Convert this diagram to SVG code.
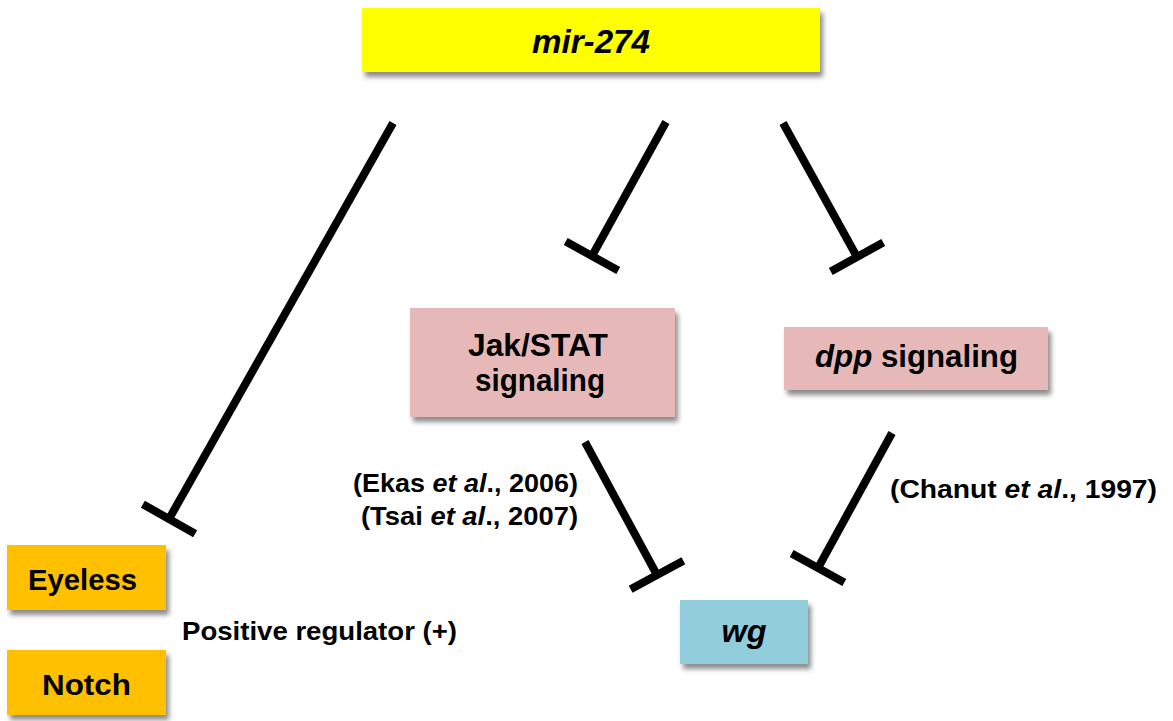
<svg xmlns="http://www.w3.org/2000/svg" width="1173" height="721" viewBox="0 0 1173 721">
<style>
text{font-family:"Liberation Sans",Arial,sans-serif;font-weight:bold;fill:#000}
.it{font-style:italic}
.box{filter:url(#sh)}
.conn{stroke:#000;stroke-width:8;fill:none;marker-end:url(#tbar)}
</style>
<defs>
<filter id="sh" x="-10%" y="-20%" width="125%" height="160%">
<feDropShadow dx="3" dy="5" stdDeviation="2.5" flood-color="#000" flood-opacity="0.45"/>
</filter>
<marker id="tbar" viewBox="-5 -31 10 62" refX="0" refY="0" markerWidth="10" markerHeight="62" markerUnits="userSpaceOnUse" orient="auto" overflow="visible">
<path d="M0,-30 L0,30" stroke="#000" stroke-width="8"/>
</marker>
</defs>
<rect width="1173" height="721" fill="#fff"/>
<g id="connectors">
<path class="conn" d="M393,123 L169,519"/>
<path class="conn" d="M666,122 L592,256"/>
<path class="conn" d="M783,123 L857,257"/>
<path class="conn" d="M585,442 L657,575"/>
<path class="conn" d="M892,433 L818,568"/>
</g>
<g id="mir274">
<rect class="box" x="362" y="8" width="458" height="64" fill="#FFFF00"/>
<text class="it" x="591" y="53" font-size="34" text-anchor="middle" textLength="118" lengthAdjust="spacingAndGlyphs">mir-274</text>
</g>
<g id="jakstat">
<rect class="box" x="410" y="308" width="265" height="109" fill="#E6B9B8"/>
<text x="538" y="356" font-size="32" text-anchor="middle" textLength="140" lengthAdjust="spacingAndGlyphs">Jak/STAT</text>
<text x="540" y="391" font-size="32" text-anchor="middle" textLength="130" lengthAdjust="spacingAndGlyphs">signaling</text>
</g>
<g id="dpp">
<rect class="box" x="784" y="327" width="264" height="63" fill="#E6B9B8"/>
<text x="815" y="367" font-size="31" textLength="203" lengthAdjust="spacingAndGlyphs"><tspan class="it">dpp</tspan> signaling</text>
</g>
<g id="wg">
<rect class="box" x="680" y="600" width="128" height="64" fill="#92CDDC"/>
<text class="it" x="744" y="642" font-size="32" text-anchor="middle" textLength="45" lengthAdjust="spacingAndGlyphs">wg</text>
</g>
<g id="eyeless">
<rect class="box" x="7" y="545" width="159" height="65" fill="#FFC000"/>
<text x="28" y="590" font-size="30" textLength="109" lengthAdjust="spacingAndGlyphs">Eyeless</text>
</g>
<g id="notch">
<rect class="box" x="7" y="650" width="159" height="65" fill="#FFC000"/>
<text x="42" y="695" font-size="30" textLength="89" lengthAdjust="spacingAndGlyphs">Notch</text>
</g>
<g id="labels">
<text x="182" y="640" font-size="26" textLength="275" lengthAdjust="spacingAndGlyphs">Positive regulator (+)</text>
<text x="353" y="492" font-size="25" textLength="225" lengthAdjust="spacingAndGlyphs">(Ekas <tspan class="it">et al</tspan>., 2006)</text>
<text x="361" y="525" font-size="25" textLength="217" lengthAdjust="spacingAndGlyphs">(Tsai <tspan class="it">et al</tspan>., 2007)</text>
<text x="890" y="498" font-size="25" textLength="267" lengthAdjust="spacingAndGlyphs">(Chanut <tspan class="it">et al</tspan>., 1997)</text>
</g>
</svg>
